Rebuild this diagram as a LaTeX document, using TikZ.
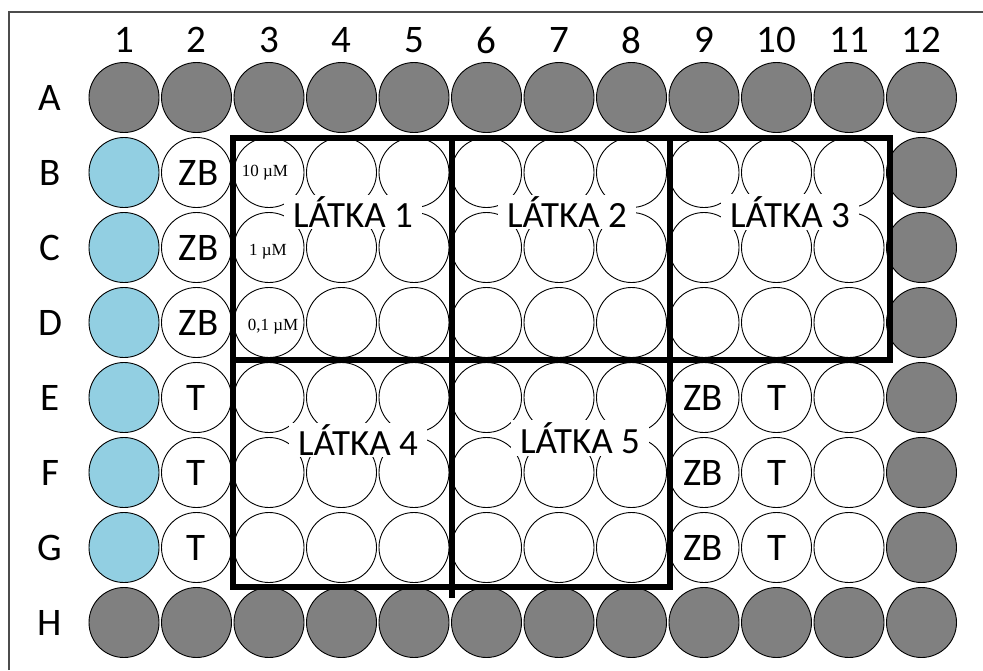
\documentclass[tikz,border=0pt]{standalone}
\usepackage{fontspec}
\setmainfont{Carlito}
\newfontfamily\concfont{Liberation Serif}
\usetikzlibrary{positioning}
\definecolor{wellgrey}{RGB}{128,128,128}
\definecolor{wellblue}{RGB}{146,207,226}

\begin{document}
\begin{tikzpicture}[
    x=1pt,y=-1pt,
    well/.style={draw,circle,minimum size=70pt,inner sep=0pt,line width=0.9pt},
    lbl/.style={font=\fontsize{39}{44}\selectfont,inner sep=0pt},
    latka/.style={fill=white,inner xsep=9pt,inner ysep=2pt,
                  font=\fontsize{37}{42}\selectfont},
    conc/.style={font=\concfont\fontsize{17}{20}\selectfont,inner sep=0pt},
    frame/.style={line width=6pt}
]
  \useasboundingbox (0,0) rectangle (983,670);
  \draw[line width=1.5pt,black!70] (9,670) -- (9,12) -- (983,12);

  % Wells
  \foreach \r [count=\i from 0] in {A,...,H}
    \foreach \c in {1,...,12} {
      \def\wfill{white}
      \ifnum\c=12 \def\wfill{wellgrey}\fi
      \ifnum\c=1 \def\wfill{wellblue}\fi
      \ifnum\i=0 \def\wfill{wellgrey}\fi
      \ifnum\i=7 \def\wfill{wellgrey}\fi
      \node[well,fill=\wfill] (\r\c) at ({124+72.5*(\c-1)},{97.5+75*\i}) {};
    }

  % Plate labels
  \foreach \c in {1,...,12}
    \node[lbl] (col\c) at ({124+72.5*(\c-1)},40) {\c};
  \foreach \r [count=\i from 0] in {A,...,H}
    \node[lbl] (row\r) at (50,{97.5+75*\i}) {\r};

  % Controls
  \foreach \r in {B,C,D}
    \node[lbl] (zb\r) at ([xshift=2pt]\r2) {ZB};
  \foreach \r in {E,F,G} {
    \node[lbl] (t\r) at (\r2) {T};
    \node[lbl] (zb\r) at ([xshift=-1pt]\r9) {ZB};
    \node[lbl] (tt\r) at (\r10) {T};
  }

  % Concentrations
  \node[conc] (c10) at ([xshift=-4pt]B3) {10 µM};
  \node[conc] (c1) at ([xshift=-1pt,yshift=-4pt]C3) {1 µM};
  \node[conc] (c01) at ([xshift=4pt,yshift=-4pt]D3) {0,1 µM};

  % Compound blocks
  \draw[frame] (233,138) rectangle (890,360);
  \draw[frame] (233,360) rectangle (670,587);
  \draw[frame] (670,138) -- (670,360);
  \draw[frame] (452,136) -- (452,598);

  \node[latka] (l1) at (353,212) {LÁTKA 1};
  \node[latka] (l2) at (567,212) {LÁTKA 2};
  \node[latka] (l3) at (790,212) {LÁTKA 3};
  \node[latka] (l4) at (358,440) {LÁTKA 4};
  \node[latka] (l5) at (580,438) {LÁTKA 5};
\end{tikzpicture}
\end{document}
